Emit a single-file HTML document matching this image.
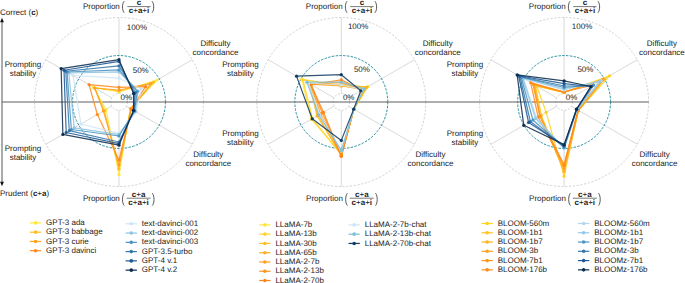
<!DOCTYPE html><html><head><meta charset="utf-8"><style>html,body{margin:0;padding:0;background:#fff;width:685px;height:283px;overflow:hidden}svg{display:block}text{font-family:"Liberation Sans",sans-serif;font-size:8px;fill:#1a1a1a;text-rendering:geometricPrecision}.b{font-weight:bold}</style></head><body>
<svg width="685" height="283" viewBox="0 0 685 283">
<circle cx="119" cy="102" r="84.5" fill="none" stroke="#b4b4b4" stroke-width="0.6" stroke-dasharray="2.2 1.6"/>
<line x1="119" y1="93.6" x2="119" y2="17.5" stroke="#c8c8c8" stroke-width="0.7"/>
<line x1="126.27" y1="97.8" x2="192.18" y2="59.75" stroke="#c8c8c8" stroke-width="0.7"/>
<line x1="126.27" y1="106.2" x2="192.18" y2="144.25" stroke="#c8c8c8" stroke-width="0.7"/>
<line x1="119" y1="110.4" x2="119" y2="186.5" stroke="#c8c8c8" stroke-width="0.7"/>
<line x1="111.73" y1="106.2" x2="45.82" y2="144.25" stroke="#c8c8c8" stroke-width="0.7"/>
<line x1="111.73" y1="97.8" x2="45.82" y2="59.75" stroke="#c8c8c8" stroke-width="0.7"/>
<circle cx="119" cy="102" r="8.4" fill="none" stroke="#b4b4b4" stroke-width="0.6" stroke-dasharray="2 1.6"/>
<circle cx="119" cy="102" r="46.45" fill="none" stroke="#1f8c9e" stroke-width="0.95" stroke-dasharray="2.5 1.3"/>
<circle cx="341.3" cy="102" r="84.5" fill="none" stroke="#b4b4b4" stroke-width="0.6" stroke-dasharray="2.2 1.6"/>
<line x1="341.3" y1="93.6" x2="341.3" y2="17.5" stroke="#c8c8c8" stroke-width="0.7"/>
<line x1="348.57" y1="97.8" x2="414.48" y2="59.75" stroke="#c8c8c8" stroke-width="0.7"/>
<line x1="348.57" y1="106.2" x2="414.48" y2="144.25" stroke="#c8c8c8" stroke-width="0.7"/>
<line x1="341.3" y1="110.4" x2="341.3" y2="186.5" stroke="#c8c8c8" stroke-width="0.7"/>
<line x1="334.03" y1="106.2" x2="268.12" y2="144.25" stroke="#c8c8c8" stroke-width="0.7"/>
<line x1="334.03" y1="97.8" x2="268.12" y2="59.75" stroke="#c8c8c8" stroke-width="0.7"/>
<circle cx="341.3" cy="102" r="8.4" fill="none" stroke="#b4b4b4" stroke-width="0.6" stroke-dasharray="2 1.6"/>
<circle cx="341.3" cy="102" r="46.45" fill="none" stroke="#1f8c9e" stroke-width="0.95" stroke-dasharray="2.5 1.3"/>
<circle cx="564.1" cy="102" r="84.5" fill="none" stroke="#b4b4b4" stroke-width="0.6" stroke-dasharray="2.2 1.6"/>
<line x1="564.1" y1="93.6" x2="564.1" y2="17.5" stroke="#c8c8c8" stroke-width="0.7"/>
<line x1="571.37" y1="97.8" x2="637.28" y2="59.75" stroke="#c8c8c8" stroke-width="0.7"/>
<line x1="571.37" y1="106.2" x2="637.28" y2="144.25" stroke="#c8c8c8" stroke-width="0.7"/>
<line x1="564.1" y1="110.4" x2="564.1" y2="186.5" stroke="#c8c8c8" stroke-width="0.7"/>
<line x1="556.83" y1="106.2" x2="490.92" y2="144.25" stroke="#c8c8c8" stroke-width="0.7"/>
<line x1="556.83" y1="97.8" x2="490.92" y2="59.75" stroke="#c8c8c8" stroke-width="0.7"/>
<circle cx="564.1" cy="102" r="8.4" fill="none" stroke="#b4b4b4" stroke-width="0.6" stroke-dasharray="2 1.6"/>
<circle cx="564.1" cy="102" r="46.45" fill="none" stroke="#1f8c9e" stroke-width="0.95" stroke-dasharray="2.5 1.3"/>
<line x1="2" y1="102" x2="648.6" y2="102" stroke="#5e5e5e" stroke-width="1.15"/>
<polygon points="119,92 156.93,80.1 130.26,108.5 119,174.6 106.01,109.5 93.37,87.2" fill="none" stroke="#FFE83A" stroke-width="1.2" stroke-opacity="0.88" stroke-linejoin="round"/>
<circle cx="119" cy="92" r="1.6" fill="#FFE83A"/>
<circle cx="156.93" cy="80.1" r="1.6" fill="#FFE83A"/>
<circle cx="130.26" cy="108.5" r="1.6" fill="#FFE83A"/>
<circle cx="119" cy="174.6" r="1.6" fill="#FFE83A"/>
<circle cx="106.01" cy="109.5" r="1.6" fill="#FFE83A"/>
<circle cx="93.37" cy="87.2" r="1.6" fill="#FFE83A"/>
<polygon points="119,91 153.64,82 130.69,108.75 119,169 104.28,110.5 94.75,88" fill="none" stroke="#FFBF1F" stroke-width="1.2" stroke-opacity="0.88" stroke-linejoin="round"/>
<circle cx="119" cy="91" r="1.6" fill="#FFBF1F"/>
<circle cx="153.64" cy="82" r="1.6" fill="#FFBF1F"/>
<circle cx="130.69" cy="108.75" r="1.6" fill="#FFBF1F"/>
<circle cx="119" cy="169" r="1.6" fill="#FFBF1F"/>
<circle cx="104.28" cy="110.5" r="1.6" fill="#FFBF1F"/>
<circle cx="94.75" cy="88" r="1.6" fill="#FFBF1F"/>
<polygon points="119,90 150.87,83.6 131.12,109 119,165 103.41,111 94.75,88" fill="none" stroke="#FFA01E" stroke-width="1.2" stroke-opacity="0.88" stroke-linejoin="round"/>
<circle cx="119" cy="90" r="1.6" fill="#FFA01E"/>
<circle cx="150.87" cy="83.6" r="1.6" fill="#FFA01E"/>
<circle cx="131.12" cy="109" r="1.6" fill="#FFA01E"/>
<circle cx="119" cy="165" r="1.6" fill="#FFA01E"/>
<circle cx="103.41" cy="111" r="1.6" fill="#FFA01E"/>
<circle cx="94.75" cy="88" r="1.6" fill="#FFA01E"/>
<polygon points="119,87.3 145.59,86.65 131.21,109.05 119,160 97.35,114.5 89.04,84.7" fill="none" stroke="#FF8A1C" stroke-width="1.2" stroke-opacity="0.88" stroke-linejoin="round"/>
<circle cx="119" cy="87.3" r="1.6" fill="#FF8A1C"/>
<circle cx="145.59" cy="86.65" r="1.6" fill="#FF8A1C"/>
<circle cx="131.21" cy="109.05" r="1.6" fill="#FF8A1C"/>
<circle cx="119" cy="160" r="1.6" fill="#FF8A1C"/>
<circle cx="97.35" cy="114.5" r="1.6" fill="#FF8A1C"/>
<circle cx="89.04" cy="84.7" r="1.6" fill="#FF8A1C"/>
<polygon points="119,78.2 141.52,89 136.06,111.85 119,133.4 80.89,124 73.1,75.5" fill="none" stroke="#CDE5F6" stroke-width="1.2" stroke-opacity="0.88" stroke-linejoin="round"/>
<circle cx="119" cy="78.2" r="1.6" fill="#CDE5F6"/>
<circle cx="141.52" cy="89" r="1.6" fill="#CDE5F6"/>
<circle cx="136.06" cy="111.85" r="1.6" fill="#CDE5F6"/>
<circle cx="119" cy="133.4" r="1.6" fill="#CDE5F6"/>
<circle cx="80.89" cy="124" r="1.6" fill="#CDE5F6"/>
<circle cx="73.1" cy="75.5" r="1.6" fill="#CDE5F6"/>
<polygon points="119,71.8 138.05,91 135.45,111.5 119,134.7 74.23,127.85 68.77,73" fill="none" stroke="#8EC3E2" stroke-width="1.2" stroke-opacity="0.88" stroke-linejoin="round"/>
<circle cx="119" cy="71.8" r="1.6" fill="#8EC3E2"/>
<circle cx="138.05" cy="91" r="1.6" fill="#8EC3E2"/>
<circle cx="135.45" cy="111.5" r="1.6" fill="#8EC3E2"/>
<circle cx="119" cy="134.7" r="1.6" fill="#8EC3E2"/>
<circle cx="74.23" cy="127.85" r="1.6" fill="#8EC3E2"/>
<circle cx="68.77" cy="73" r="1.6" fill="#8EC3E2"/>
<polygon points="119,69.8 137.19,91.5 134.59,111 119,136 71.37,129.5 67.04,72" fill="none" stroke="#4A94C2" stroke-width="1.2" stroke-opacity="0.88" stroke-linejoin="round"/>
<circle cx="119" cy="69.8" r="1.6" fill="#4A94C2"/>
<circle cx="137.19" cy="91.5" r="1.6" fill="#4A94C2"/>
<circle cx="134.59" cy="111" r="1.6" fill="#4A94C2"/>
<circle cx="119" cy="136" r="1.6" fill="#4A94C2"/>
<circle cx="71.37" cy="129.5" r="1.6" fill="#4A94C2"/>
<circle cx="67.04" cy="72" r="1.6" fill="#4A94C2"/>
<polygon points="119,65.9 135.45,92.5 134.16,110.75 119,142 69.29,130.7 65.74,71.25" fill="none" stroke="#3776AA" stroke-width="1.2" stroke-opacity="0.88" stroke-linejoin="round"/>
<circle cx="119" cy="65.9" r="1.6" fill="#3776AA"/>
<circle cx="135.45" cy="92.5" r="1.6" fill="#3776AA"/>
<circle cx="134.16" cy="110.75" r="1.6" fill="#3776AA"/>
<circle cx="119" cy="142" r="1.6" fill="#3776AA"/>
<circle cx="69.29" cy="130.7" r="1.6" fill="#3776AA"/>
<circle cx="65.74" cy="71.25" r="1.6" fill="#3776AA"/>
<polygon points="119,61.4 134.16,93.25 133.72,110.5 119,143.6 66.17,132.5 64.01,70.25" fill="none" stroke="#1B5893" stroke-width="1.2" stroke-opacity="0.88" stroke-linejoin="round"/>
<circle cx="119" cy="61.4" r="1.6" fill="#1B5893"/>
<circle cx="134.16" cy="93.25" r="1.6" fill="#1B5893"/>
<circle cx="133.72" cy="110.5" r="1.6" fill="#1B5893"/>
<circle cx="119" cy="143.6" r="1.6" fill="#1B5893"/>
<circle cx="66.17" cy="132.5" r="1.6" fill="#1B5893"/>
<circle cx="64.01" cy="70.25" r="1.6" fill="#1B5893"/>
<polygon points="119,59.7 133.55,93.6 133.55,110.4 119,145.2 62.88,134.4 61.15,68.6" fill="none" stroke="#0C2D50" stroke-width="1.2" stroke-opacity="0.88" stroke-linejoin="round"/>
<circle cx="119" cy="59.7" r="1.6" fill="#0C2D50"/>
<circle cx="133.55" cy="93.6" r="1.6" fill="#0C2D50"/>
<circle cx="133.55" cy="110.4" r="1.6" fill="#0C2D50"/>
<circle cx="119" cy="145.2" r="1.6" fill="#0C2D50"/>
<circle cx="62.88" cy="134.4" r="1.6" fill="#0C2D50"/>
<circle cx="61.15" cy="68.6" r="1.6" fill="#0C2D50"/>
<polygon points="341.3,86 368.15,86.5 353.86,109.25 341.3,153.8 311.42,119.25 301.72,79.15" fill="none" stroke="#FFE53A" stroke-width="1.2" stroke-opacity="0.88" stroke-linejoin="round"/>
<circle cx="341.3" cy="86" r="1.6" fill="#FFE53A"/>
<circle cx="368.15" cy="86.5" r="1.6" fill="#FFE53A"/>
<circle cx="353.86" cy="109.25" r="1.6" fill="#FFE53A"/>
<circle cx="341.3" cy="153.8" r="1.6" fill="#FFE53A"/>
<circle cx="311.42" cy="119.25" r="1.6" fill="#FFE53A"/>
<circle cx="301.72" cy="79.15" r="1.6" fill="#FFE53A"/>
<polygon points="341.3,85.5 366.85,87.25 353.86,109.25 341.3,154.8 312.55,118.6 302.94,79.85" fill="none" stroke="#FFD42A" stroke-width="1.2" stroke-opacity="0.88" stroke-linejoin="round"/>
<circle cx="341.3" cy="85.5" r="1.6" fill="#FFD42A"/>
<circle cx="366.85" cy="87.25" r="1.6" fill="#FFD42A"/>
<circle cx="353.86" cy="109.25" r="1.6" fill="#FFD42A"/>
<circle cx="341.3" cy="154.8" r="1.6" fill="#FFD42A"/>
<circle cx="312.55" cy="118.6" r="1.6" fill="#FFD42A"/>
<circle cx="302.94" cy="79.85" r="1.6" fill="#FFD42A"/>
<polygon points="341.3,85 364.68,88.5 353.86,109.25 341.3,155 317.05,116 309.26,83.5" fill="none" stroke="#FFBE20" stroke-width="1.2" stroke-opacity="0.88" stroke-linejoin="round"/>
<circle cx="341.3" cy="85" r="1.6" fill="#FFBE20"/>
<circle cx="364.68" cy="88.5" r="1.6" fill="#FFBE20"/>
<circle cx="353.86" cy="109.25" r="1.6" fill="#FFBE20"/>
<circle cx="341.3" cy="155" r="1.6" fill="#FFBE20"/>
<circle cx="317.05" cy="116" r="1.6" fill="#FFBE20"/>
<circle cx="309.26" cy="83.5" r="1.6" fill="#FFBE20"/>
<polygon points="341.3,84 366.67,87.35 353.86,109.25 341.3,155.5 317.92,115.5 310.12,84" fill="none" stroke="#FFB01E" stroke-width="1.2" stroke-opacity="0.88" stroke-linejoin="round"/>
<circle cx="341.3" cy="84" r="1.6" fill="#FFB01E"/>
<circle cx="366.67" cy="87.35" r="1.6" fill="#FFB01E"/>
<circle cx="353.86" cy="109.25" r="1.6" fill="#FFB01E"/>
<circle cx="341.3" cy="155.5" r="1.6" fill="#FFB01E"/>
<circle cx="317.92" cy="115.5" r="1.6" fill="#FFB01E"/>
<circle cx="310.12" cy="84" r="1.6" fill="#FFB01E"/>
<polygon points="341.3,86 362.95,89.5 353.86,109.25 341.3,156 320.52,114 310.56,84.25" fill="none" stroke="#FFA01E" stroke-width="1.2" stroke-opacity="0.88" stroke-linejoin="round"/>
<circle cx="341.3" cy="86" r="1.6" fill="#FFA01E"/>
<circle cx="362.95" cy="89.5" r="1.6" fill="#FFA01E"/>
<circle cx="353.86" cy="109.25" r="1.6" fill="#FFA01E"/>
<circle cx="341.3" cy="156" r="1.6" fill="#FFA01E"/>
<circle cx="320.52" cy="114" r="1.6" fill="#FFA01E"/>
<circle cx="310.56" cy="84.25" r="1.6" fill="#FFA01E"/>
<polygon points="341.3,82 362.52,89.75 353.86,109.25 341.3,156.2 322.25,113 310.99,84.5" fill="none" stroke="#FF921C" stroke-width="1.2" stroke-opacity="0.88" stroke-linejoin="round"/>
<circle cx="341.3" cy="82" r="1.6" fill="#FF921C"/>
<circle cx="362.52" cy="89.75" r="1.6" fill="#FF921C"/>
<circle cx="353.86" cy="109.25" r="1.6" fill="#FF921C"/>
<circle cx="341.3" cy="156.2" r="1.6" fill="#FF921C"/>
<circle cx="322.25" cy="113" r="1.6" fill="#FF921C"/>
<circle cx="310.99" cy="84.5" r="1.6" fill="#FF921C"/>
<polygon points="341.3,79.9 362.08,90 353.86,109.25 341.3,156.2 323.46,112.3 310.99,84.5" fill="none" stroke="#FF851A" stroke-width="1.2" stroke-opacity="0.88" stroke-linejoin="round"/>
<circle cx="341.3" cy="79.9" r="1.6" fill="#FF851A"/>
<circle cx="362.08" cy="90" r="1.6" fill="#FF851A"/>
<circle cx="353.86" cy="109.25" r="1.6" fill="#FF851A"/>
<circle cx="341.3" cy="156.2" r="1.6" fill="#FF851A"/>
<circle cx="323.46" cy="112.3" r="1.6" fill="#FF851A"/>
<circle cx="310.99" cy="84.5" r="1.6" fill="#FF851A"/>
<polygon points="341.3,85 362.95,89.5 353.86,109.25 341.3,151 319.65,114.5 308.39,83" fill="none" stroke="#CDE5F6" stroke-width="1.2" stroke-opacity="0.88" stroke-linejoin="round"/>
<circle cx="341.3" cy="85" r="1.6" fill="#CDE5F6"/>
<circle cx="362.95" cy="89.5" r="1.6" fill="#CDE5F6"/>
<circle cx="353.86" cy="109.25" r="1.6" fill="#CDE5F6"/>
<circle cx="341.3" cy="151" r="1.6" fill="#CDE5F6"/>
<circle cx="319.65" cy="114.5" r="1.6" fill="#CDE5F6"/>
<circle cx="308.39" cy="83" r="1.6" fill="#CDE5F6"/>
<polygon points="341.3,82.1 364.16,88.8 353.86,109.25 341.3,150.4 318.78,115 306.92,82.15" fill="none" stroke="#7CC0DA" stroke-width="1.2" stroke-opacity="0.88" stroke-linejoin="round"/>
<circle cx="341.3" cy="82.1" r="1.6" fill="#7CC0DA"/>
<circle cx="364.16" cy="88.8" r="1.6" fill="#7CC0DA"/>
<circle cx="353.86" cy="109.25" r="1.6" fill="#7CC0DA"/>
<circle cx="341.3" cy="150.4" r="1.6" fill="#7CC0DA"/>
<circle cx="318.78" cy="115" r="1.6" fill="#7CC0DA"/>
<circle cx="306.92" cy="82.15" r="1.6" fill="#7CC0DA"/>
<polygon points="341.3,74.7 360.79,90.75 353.68,109.15 341.3,140.4 312.2,118.8 296.53,76.15" fill="none" stroke="#113d62" stroke-width="1.2" stroke-opacity="0.88" stroke-linejoin="round"/>
<circle cx="341.3" cy="74.7" r="1.6" fill="#113d62"/>
<circle cx="360.79" cy="90.75" r="1.6" fill="#113d62"/>
<circle cx="353.68" cy="109.15" r="1.6" fill="#113d62"/>
<circle cx="341.3" cy="140.4" r="1.6" fill="#113d62"/>
<circle cx="312.2" cy="118.8" r="1.6" fill="#113d62"/>
<circle cx="296.53" cy="76.15" r="1.6" fill="#113d62"/>
<polygon points="564.1,92.3 609.57,75.75 578.39,110.25 564.1,176.2 546.17,112.35 536.82,86.25" fill="none" stroke="#FFD21E" stroke-width="1.2" stroke-opacity="0.88" stroke-linejoin="round"/>
<circle cx="564.1" cy="92.3" r="1.6" fill="#FFD21E"/>
<circle cx="609.57" cy="75.75" r="1.6" fill="#FFD21E"/>
<circle cx="578.39" cy="110.25" r="1.6" fill="#FFD21E"/>
<circle cx="564.1" cy="176.2" r="1.6" fill="#FFD21E"/>
<circle cx="546.17" cy="112.35" r="1.6" fill="#FFD21E"/>
<circle cx="536.82" cy="86.25" r="1.6" fill="#FFD21E"/>
<polygon points="564.1,92.3 604.2,78.85 578.39,110.25 564.1,172 541.24,115.2 535.52,85.5" fill="none" stroke="#FFC420" stroke-width="1.2" stroke-opacity="0.88" stroke-linejoin="round"/>
<circle cx="564.1" cy="92.3" r="1.6" fill="#FFC420"/>
<circle cx="604.2" cy="78.85" r="1.6" fill="#FFC420"/>
<circle cx="578.39" cy="110.25" r="1.6" fill="#FFC420"/>
<circle cx="564.1" cy="172" r="1.6" fill="#FFC420"/>
<circle cx="541.24" cy="115.2" r="1.6" fill="#FFC420"/>
<circle cx="535.52" cy="85.5" r="1.6" fill="#FFC420"/>
<polygon points="564.1,92.3 603.94,79 578.39,110.25 564.1,170.8 540.28,115.75 534.66,85" fill="none" stroke="#FFB21E" stroke-width="1.2" stroke-opacity="0.88" stroke-linejoin="round"/>
<circle cx="564.1" cy="92.3" r="1.6" fill="#FFB21E"/>
<circle cx="603.94" cy="79" r="1.6" fill="#FFB21E"/>
<circle cx="578.39" cy="110.25" r="1.6" fill="#FFB21E"/>
<circle cx="564.1" cy="170.8" r="1.6" fill="#FFB21E"/>
<circle cx="540.28" cy="115.75" r="1.6" fill="#FFB21E"/>
<circle cx="534.66" cy="85" r="1.6" fill="#FFB21E"/>
<polygon points="564.1,92.3 603.07,79.5 578.39,110.25 564.1,168 539.85,116 533.79,84.5" fill="none" stroke="#FFA31E" stroke-width="1.2" stroke-opacity="0.88" stroke-linejoin="round"/>
<circle cx="564.1" cy="92.3" r="1.6" fill="#FFA31E"/>
<circle cx="603.07" cy="79.5" r="1.6" fill="#FFA31E"/>
<circle cx="578.39" cy="110.25" r="1.6" fill="#FFA31E"/>
<circle cx="564.1" cy="168" r="1.6" fill="#FFA31E"/>
<circle cx="539.85" cy="116" r="1.6" fill="#FFA31E"/>
<circle cx="533.79" cy="84.5" r="1.6" fill="#FFA31E"/>
<polygon points="564.1,92 602.21,80 578.39,110.25 564.1,165 539.85,116 532.92,84" fill="none" stroke="#FF961C" stroke-width="1.2" stroke-opacity="0.88" stroke-linejoin="round"/>
<circle cx="564.1" cy="92" r="1.6" fill="#FF961C"/>
<circle cx="602.21" cy="80" r="1.6" fill="#FF961C"/>
<circle cx="578.39" cy="110.25" r="1.6" fill="#FF961C"/>
<circle cx="564.1" cy="165" r="1.6" fill="#FF961C"/>
<circle cx="539.85" cy="116" r="1.6" fill="#FF961C"/>
<circle cx="532.92" cy="84" r="1.6" fill="#FF961C"/>
<polygon points="564.1,92 593.54,85 577.96,110 564.1,165 538.12,117 530.67,82.7" fill="none" stroke="#FF8A1C" stroke-width="1.2" stroke-opacity="0.88" stroke-linejoin="round"/>
<circle cx="564.1" cy="92" r="1.6" fill="#FF8A1C"/>
<circle cx="593.54" cy="85" r="1.6" fill="#FF8A1C"/>
<circle cx="577.96" cy="110" r="1.6" fill="#FF8A1C"/>
<circle cx="564.1" cy="165" r="1.6" fill="#FF8A1C"/>
<circle cx="538.12" cy="117" r="1.6" fill="#FF8A1C"/>
<circle cx="530.67" cy="82.7" r="1.6" fill="#FF8A1C"/>
<polygon points="564.1,90 601.17,80.6 577.09,109.5 564.1,148.4 536.39,118 523.4,78.5" fill="none" stroke="#B4D8EE" stroke-width="1.2" stroke-opacity="0.88" stroke-linejoin="round"/>
<circle cx="564.1" cy="90" r="1.6" fill="#B4D8EE"/>
<circle cx="601.17" cy="80.6" r="1.6" fill="#B4D8EE"/>
<circle cx="577.09" cy="109.5" r="1.6" fill="#B4D8EE"/>
<circle cx="564.1" cy="148.4" r="1.6" fill="#B4D8EE"/>
<circle cx="536.39" cy="118" r="1.6" fill="#B4D8EE"/>
<circle cx="523.4" cy="78.5" r="1.6" fill="#B4D8EE"/>
<polygon points="564.1,89 599.61,81.5 577.09,109.5 564.1,148 535.52,118.5 522.53,78" fill="none" stroke="#95C8E6" stroke-width="1.2" stroke-opacity="0.88" stroke-linejoin="round"/>
<circle cx="564.1" cy="89" r="1.6" fill="#95C8E6"/>
<circle cx="599.61" cy="81.5" r="1.6" fill="#95C8E6"/>
<circle cx="577.09" cy="109.5" r="1.6" fill="#95C8E6"/>
<circle cx="564.1" cy="148" r="1.6" fill="#95C8E6"/>
<circle cx="535.52" cy="118.5" r="1.6" fill="#95C8E6"/>
<circle cx="522.53" cy="78" r="1.6" fill="#95C8E6"/>
<polygon points="564.1,87.5 593.54,85 576.66,109.25 564.1,147.5 532.92,120 521.23,77.25" fill="none" stroke="#4A95C3" stroke-width="1.2" stroke-opacity="0.88" stroke-linejoin="round"/>
<circle cx="564.1" cy="87.5" r="1.6" fill="#4A95C3"/>
<circle cx="593.54" cy="85" r="1.6" fill="#4A95C3"/>
<circle cx="576.66" cy="109.25" r="1.6" fill="#4A95C3"/>
<circle cx="564.1" cy="147.5" r="1.6" fill="#4A95C3"/>
<circle cx="532.92" cy="120" r="1.6" fill="#4A95C3"/>
<circle cx="521.23" cy="77.25" r="1.6" fill="#4A95C3"/>
<polygon points="564.1,86 591.81,86 576.66,109.25 564.1,146.5 530.33,121.5 519.93,76.5" fill="none" stroke="#3576AA" stroke-width="1.2" stroke-opacity="0.88" stroke-linejoin="round"/>
<circle cx="564.1" cy="86" r="1.6" fill="#3576AA"/>
<circle cx="591.81" cy="86" r="1.6" fill="#3576AA"/>
<circle cx="576.66" cy="109.25" r="1.6" fill="#3576AA"/>
<circle cx="564.1" cy="146.5" r="1.6" fill="#3576AA"/>
<circle cx="530.33" cy="121.5" r="1.6" fill="#3576AA"/>
<circle cx="519.93" cy="76.5" r="1.6" fill="#3576AA"/>
<polygon points="564.1,83.7 590.95,86.5 576.57,109.2 564.1,145.5 528.59,122.5 518.63,75.75" fill="none" stroke="#1B5893" stroke-width="1.2" stroke-opacity="0.88" stroke-linejoin="round"/>
<circle cx="564.1" cy="83.7" r="1.6" fill="#1B5893"/>
<circle cx="590.95" cy="86.5" r="1.6" fill="#1B5893"/>
<circle cx="576.57" cy="109.2" r="1.6" fill="#1B5893"/>
<circle cx="564.1" cy="145.5" r="1.6" fill="#1B5893"/>
<circle cx="528.59" cy="122.5" r="1.6" fill="#1B5893"/>
<circle cx="518.63" cy="75.75" r="1.6" fill="#1B5893"/>
<polygon points="564.1,80.9 590.95,86.5 576.57,109.2 564.1,144.6 523.74,125.3 517.16,74.9" fill="none" stroke="#0C2D50" stroke-width="1.2" stroke-opacity="0.88" stroke-linejoin="round"/>
<circle cx="564.1" cy="80.9" r="1.6" fill="#0C2D50"/>
<circle cx="590.95" cy="86.5" r="1.6" fill="#0C2D50"/>
<circle cx="576.57" cy="109.2" r="1.6" fill="#0C2D50"/>
<circle cx="564.1" cy="144.6" r="1.6" fill="#0C2D50"/>
<circle cx="523.74" cy="125.3" r="1.6" fill="#0C2D50"/>
<circle cx="517.16" cy="74.9" r="1.6" fill="#0C2D50"/>
<text x="82.9" y="9.2">Proportion</text>
<path d="M124.2,1.2 C121.9,3.8 121.9,10.2 124.2,12.8" fill="none" stroke="#222" stroke-width="0.75"/>
<line x1="127.3" y1="6.6" x2="150.7" y2="6.6" stroke="#222" stroke-width="0.6"/>
<text x="139" y="5" text-anchor="middle"><tspan class="b">c</tspan></text>
<text x="139" y="13.2" text-anchor="middle"><tspan class="b">c</tspan>+<tspan class="b">a</tspan>+<tspan class="b">i</tspan></text>
<path d="M152,1.2 C154.3,3.8 154.3,10.2 152,12.8" fill="none" stroke="#222" stroke-width="0.75"/>
<text x="82.9" y="201.4">Proportion</text>
<path d="M124.2,193.2 C121.9,195.8 121.9,203 124.2,205.6" fill="none" stroke="#222" stroke-width="0.75"/>
<line x1="126.6" y1="198.2" x2="150.6" y2="198.2" stroke="#222" stroke-width="0.6"/>
<text x="138.6" y="196.6" text-anchor="middle"><tspan class="b">c</tspan>+<tspan class="b">a</tspan></text>
<text x="138.6" y="204.8" text-anchor="middle"><tspan class="b">c</tspan>+<tspan class="b">a</tspan>+<tspan class="b">i</tspan></text>
<path d="M152.3,193.2 C154.6,195.8 154.6,203 152.3,205.6" fill="none" stroke="#222" stroke-width="0.75"/>
<text x="126.7" y="29.9">100%</text>
<text x="132.7" y="72.9">50%</text>
<text x="120.6" y="100.1">0%</text>
<text x="305.8" y="9.2">Proportion</text>
<path d="M347.1,1.2 C344.8,3.8 344.8,10.2 347.1,12.8" fill="none" stroke="#222" stroke-width="0.75"/>
<line x1="350.2" y1="6.6" x2="373.6" y2="6.6" stroke="#222" stroke-width="0.6"/>
<text x="361.9" y="5" text-anchor="middle"><tspan class="b">c</tspan></text>
<text x="361.9" y="13.2" text-anchor="middle"><tspan class="b">c</tspan>+<tspan class="b">a</tspan>+<tspan class="b">i</tspan></text>
<path d="M374.9,1.2 C377.2,3.8 377.2,10.2 374.9,12.8" fill="none" stroke="#222" stroke-width="0.75"/>
<text x="306.1" y="201.4">Proportion</text>
<path d="M347.4,193.2 C345.1,195.8 345.1,203 347.4,205.6" fill="none" stroke="#222" stroke-width="0.75"/>
<line x1="349.8" y1="198.2" x2="373.8" y2="198.2" stroke="#222" stroke-width="0.6"/>
<text x="361.8" y="196.6" text-anchor="middle"><tspan class="b">c</tspan>+<tspan class="b">a</tspan></text>
<text x="361.8" y="204.8" text-anchor="middle"><tspan class="b">c</tspan>+<tspan class="b">a</tspan>+<tspan class="b">i</tspan></text>
<path d="M375.5,193.2 C377.8,195.8 377.8,203 375.5,205.6" fill="none" stroke="#222" stroke-width="0.75"/>
<text x="347.9" y="28.8">100%</text>
<text x="353.9" y="72.4">50%</text>
<text x="342.9" y="100.1">0%</text>
<text x="528.8" y="9.2">Proportion</text>
<path d="M570.1,1.2 C567.8,3.8 567.8,10.2 570.1,12.8" fill="none" stroke="#222" stroke-width="0.75"/>
<line x1="573.2" y1="6.6" x2="596.6" y2="6.6" stroke="#222" stroke-width="0.6"/>
<text x="584.9" y="5" text-anchor="middle"><tspan class="b">c</tspan></text>
<text x="584.9" y="13.2" text-anchor="middle"><tspan class="b">c</tspan>+<tspan class="b">a</tspan>+<tspan class="b">i</tspan></text>
<path d="M597.9,1.2 C600.2,3.8 600.2,10.2 597.9,12.8" fill="none" stroke="#222" stroke-width="0.75"/>
<text x="529.1" y="201.4">Proportion</text>
<path d="M570.4,193.2 C568.1,195.8 568.1,203 570.4,205.6" fill="none" stroke="#222" stroke-width="0.75"/>
<line x1="572.8" y1="198.2" x2="596.8" y2="198.2" stroke="#222" stroke-width="0.6"/>
<text x="584.8" y="196.6" text-anchor="middle"><tspan class="b">c</tspan>+<tspan class="b">a</tspan></text>
<text x="584.8" y="204.8" text-anchor="middle"><tspan class="b">c</tspan>+<tspan class="b">a</tspan>+<tspan class="b">i</tspan></text>
<path d="M598.5,193.2 C600.8,195.8 600.8,203 598.5,205.6" fill="none" stroke="#222" stroke-width="0.75"/>
<text x="571.8" y="28.8">100%</text>
<text x="577.4" y="71.7">50%</text>
<text x="565.7" y="100.1">0%</text>
<text x="23" y="66.8" text-anchor="middle">Prompting</text>
<text x="23" y="76" text-anchor="middle">stability</text>
<text x="215.5" y="46.1" text-anchor="middle">Difficulty</text>
<text x="215.5" y="55.3" text-anchor="middle">concordance</text>
<text x="23" y="150.8" text-anchor="middle">Prompting</text>
<text x="23" y="160" text-anchor="middle">stability</text>
<text x="208.3" y="157.1" text-anchor="middle">Difficulty</text>
<text x="208.3" y="166.3" text-anchor="middle">concordance</text>
<text x="240.4" y="66.9" text-anchor="middle">Prompting</text>
<text x="240.4" y="76.1" text-anchor="middle">stability</text>
<text x="437.7" y="46" text-anchor="middle">Difficulty</text>
<text x="437.7" y="55.2" text-anchor="middle">concordance</text>
<text x="240.4" y="135.8" text-anchor="middle">Prompting</text>
<text x="240.4" y="145" text-anchor="middle">stability</text>
<text x="430.5" y="157.1" text-anchor="middle">Difficulty</text>
<text x="430.5" y="166.3" text-anchor="middle">concordance</text>
<text x="464.9" y="66.9" text-anchor="middle">Prompting</text>
<text x="464.9" y="76.1" text-anchor="middle">stability</text>
<text x="661.9" y="46" text-anchor="middle">Difficulty</text>
<text x="661.9" y="55.2" text-anchor="middle">concordance</text>
<text x="464.9" y="135.8" text-anchor="middle">Prompting</text>
<text x="464.9" y="145" text-anchor="middle">stability</text>
<text x="654.6" y="157.1" text-anchor="middle">Difficulty</text>
<text x="654.6" y="166.3" text-anchor="middle">concordance</text>
<line x1="2" y1="21" x2="2" y2="183" stroke="#666" stroke-width="1.1"/>
<path d="M0.1,22.2 L2,17.7 L3.9,22.2 Z" fill="#111"/>
<path d="M0.1,181.8 L2,186.3 L3.9,181.8 Z" fill="#111"/>
<text x="0" y="15">Correct (<tspan class="b">c</tspan>)</text>
<text x="0" y="195.6">Prudent (<tspan class="b">c</tspan>+<tspan class="b">a</tspan>)</text>
<line x1="29.9" y1="222.9" x2="41.2" y2="222.9" stroke="#FFE83A" stroke-width="1.2"/>
<circle cx="35.55" cy="222.9" r="1.8" fill="#FFE83A"/>
<text x="46.1" y="225">GPT-3 ada</text>
<line x1="29.9" y1="232.17" x2="41.2" y2="232.17" stroke="#FFBF1F" stroke-width="1.2"/>
<circle cx="35.55" cy="232.17" r="1.8" fill="#FFBF1F"/>
<text x="46.1" y="234.27">GPT-3 babbage</text>
<line x1="29.9" y1="241.44" x2="41.2" y2="241.44" stroke="#FFA01E" stroke-width="1.2"/>
<circle cx="35.55" cy="241.44" r="1.8" fill="#FFA01E"/>
<text x="46.1" y="243.54">GPT-3 curie</text>
<line x1="29.9" y1="250.71" x2="41.2" y2="250.71" stroke="#FF8A1C" stroke-width="1.2"/>
<circle cx="35.55" cy="250.71" r="1.8" fill="#FF8A1C"/>
<text x="46.1" y="252.81">GPT-3 davinci</text>
<line x1="125.6" y1="223.8" x2="136.9" y2="223.8" stroke="#CDE5F6" stroke-width="1.2"/>
<circle cx="131.25" cy="223.8" r="1.8" fill="#CDE5F6"/>
<text x="141.8" y="225.9">text-davinci-001</text>
<line x1="125.6" y1="233.07" x2="136.9" y2="233.07" stroke="#8EC3E2" stroke-width="1.2"/>
<circle cx="131.25" cy="233.07" r="1.8" fill="#8EC3E2"/>
<text x="141.8" y="235.17">text-davinci-002</text>
<line x1="125.6" y1="242.34" x2="136.9" y2="242.34" stroke="#4A94C2" stroke-width="1.2"/>
<circle cx="131.25" cy="242.34" r="1.8" fill="#4A94C2"/>
<text x="141.8" y="244.44">text-davinci-003</text>
<line x1="125.6" y1="251.61" x2="136.9" y2="251.61" stroke="#3776AA" stroke-width="1.2"/>
<circle cx="131.25" cy="251.61" r="1.8" fill="#3776AA"/>
<text x="141.8" y="253.71">GPT-3.5-turbo</text>
<line x1="125.6" y1="260.88" x2="136.9" y2="260.88" stroke="#1B5893" stroke-width="1.2"/>
<circle cx="131.25" cy="260.88" r="1.8" fill="#1B5893"/>
<text x="141.8" y="262.98">GPT-4 v.1</text>
<line x1="125.6" y1="270.15" x2="136.9" y2="270.15" stroke="#0C2D50" stroke-width="1.2"/>
<circle cx="131.25" cy="270.15" r="1.8" fill="#0C2D50"/>
<text x="141.8" y="272.25">GPT-4 v.2</text>
<line x1="259.2" y1="224.9" x2="270.5" y2="224.9" stroke="#FFE53A" stroke-width="1.2"/>
<circle cx="264.85" cy="224.9" r="1.8" fill="#FFE53A"/>
<text x="275.4" y="227">LLaMA-7b</text>
<line x1="259.2" y1="234.17" x2="270.5" y2="234.17" stroke="#FFD42A" stroke-width="1.2"/>
<circle cx="264.85" cy="234.17" r="1.8" fill="#FFD42A"/>
<text x="275.4" y="236.27">LLaMA-13b</text>
<line x1="259.2" y1="243.44" x2="270.5" y2="243.44" stroke="#FFBE20" stroke-width="1.2"/>
<circle cx="264.85" cy="243.44" r="1.8" fill="#FFBE20"/>
<text x="275.4" y="245.54">LLaMA-30b</text>
<line x1="259.2" y1="252.71" x2="270.5" y2="252.71" stroke="#FFB01E" stroke-width="1.2"/>
<circle cx="264.85" cy="252.71" r="1.8" fill="#FFB01E"/>
<text x="275.4" y="254.81">LLaMA-65b</text>
<line x1="259.2" y1="261.98" x2="270.5" y2="261.98" stroke="#FFA01E" stroke-width="1.2"/>
<circle cx="264.85" cy="261.98" r="1.8" fill="#FFA01E"/>
<text x="275.4" y="264.08">LLaMA-2-7b</text>
<line x1="259.2" y1="271.25" x2="270.5" y2="271.25" stroke="#FF921C" stroke-width="1.2"/>
<circle cx="264.85" cy="271.25" r="1.8" fill="#FF921C"/>
<text x="275.4" y="273.35">LLaMA-2-13b</text>
<line x1="259.2" y1="280.52" x2="270.5" y2="280.52" stroke="#FF851A" stroke-width="1.2"/>
<circle cx="264.85" cy="280.52" r="1.8" fill="#FF851A"/>
<text x="275.4" y="282.62">LLaMA-2-70b</text>
<line x1="348.5" y1="224.9" x2="359.8" y2="224.9" stroke="#CDE5F6" stroke-width="1.2"/>
<circle cx="354.15" cy="224.9" r="1.8" fill="#CDE5F6"/>
<text x="364.7" y="227">LLaMA-2-7b-chat</text>
<line x1="348.5" y1="234.17" x2="359.8" y2="234.17" stroke="#7CC0DA" stroke-width="1.2"/>
<circle cx="354.15" cy="234.17" r="1.8" fill="#7CC0DA"/>
<text x="364.7" y="236.27">LLaMA-2-13b-chat</text>
<line x1="348.5" y1="243.44" x2="359.8" y2="243.44" stroke="#113d62" stroke-width="1.2"/>
<circle cx="354.15" cy="243.44" r="1.8" fill="#113d62"/>
<text x="364.7" y="245.54">LLaMA-2-70b-chat</text>
<line x1="481.5" y1="223.5" x2="492.8" y2="223.5" stroke="#FFD21E" stroke-width="1.2"/>
<circle cx="487.15" cy="223.5" r="1.8" fill="#FFD21E"/>
<text x="497.7" y="225.6">BLOOM-560m</text>
<line x1="481.5" y1="232.77" x2="492.8" y2="232.77" stroke="#FFC420" stroke-width="1.2"/>
<circle cx="487.15" cy="232.77" r="1.8" fill="#FFC420"/>
<text x="497.7" y="234.87">BLOOM-1b1</text>
<line x1="481.5" y1="242.04" x2="492.8" y2="242.04" stroke="#FFB21E" stroke-width="1.2"/>
<circle cx="487.15" cy="242.04" r="1.8" fill="#FFB21E"/>
<text x="497.7" y="244.14">BLOOM-1b7</text>
<line x1="481.5" y1="251.31" x2="492.8" y2="251.31" stroke="#FFA31E" stroke-width="1.2"/>
<circle cx="487.15" cy="251.31" r="1.8" fill="#FFA31E"/>
<text x="497.7" y="253.41">BLOOM-3b</text>
<line x1="481.5" y1="260.58" x2="492.8" y2="260.58" stroke="#FF961C" stroke-width="1.2"/>
<circle cx="487.15" cy="260.58" r="1.8" fill="#FF961C"/>
<text x="497.7" y="262.68">BLOOM-7b1</text>
<line x1="481.5" y1="269.85" x2="492.8" y2="269.85" stroke="#FF8A1C" stroke-width="1.2"/>
<circle cx="487.15" cy="269.85" r="1.8" fill="#FF8A1C"/>
<text x="497.7" y="271.95">BLOOM-176b</text>
<line x1="578" y1="223.5" x2="589.3" y2="223.5" stroke="#B4D8EE" stroke-width="1.2"/>
<circle cx="583.65" cy="223.5" r="1.8" fill="#B4D8EE"/>
<text x="594.2" y="225.6">BLOOMz-560m</text>
<line x1="578" y1="232.77" x2="589.3" y2="232.77" stroke="#95C8E6" stroke-width="1.2"/>
<circle cx="583.65" cy="232.77" r="1.8" fill="#95C8E6"/>
<text x="594.2" y="234.87">BLOOMz-1b1</text>
<line x1="578" y1="242.04" x2="589.3" y2="242.04" stroke="#4A95C3" stroke-width="1.2"/>
<circle cx="583.65" cy="242.04" r="1.8" fill="#4A95C3"/>
<text x="594.2" y="244.14">BLOOMz-1b7</text>
<line x1="578" y1="251.31" x2="589.3" y2="251.31" stroke="#3576AA" stroke-width="1.2"/>
<circle cx="583.65" cy="251.31" r="1.8" fill="#3576AA"/>
<text x="594.2" y="253.41">BLOOMz-3b</text>
<line x1="578" y1="260.58" x2="589.3" y2="260.58" stroke="#1B5893" stroke-width="1.2"/>
<circle cx="583.65" cy="260.58" r="1.8" fill="#1B5893"/>
<text x="594.2" y="262.68">BLOOMz-7b1</text>
<line x1="578" y1="269.85" x2="589.3" y2="269.85" stroke="#0C2D50" stroke-width="1.2"/>
<circle cx="583.65" cy="269.85" r="1.8" fill="#0C2D50"/>
<text x="594.2" y="271.95">BLOOMz-176b</text>
</svg></body></html>
